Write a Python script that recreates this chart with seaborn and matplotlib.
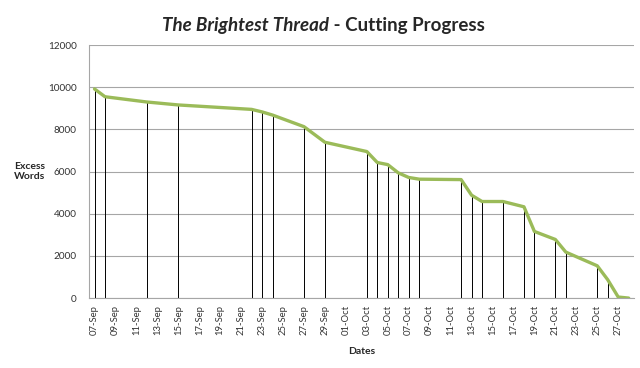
import pandas as pd
import matplotlib
matplotlib.use("Agg")
import matplotlib.pyplot as plt
import matplotlib.dates as mdates
import seaborn as sns

# Cutting progress
dates = ["2010-09-07", "2010-09-08", "2010-09-12", "2010-09-15", "2010-09-22",
         "2010-09-23", "2010-09-24", "2010-09-27", "2010-09-29", "2010-10-03",
         "2010-10-04", "2010-10-05", "2010-10-06", "2010-10-07", "2010-10-08",
         "2010-10-12", "2010-10-13", "2010-10-14", "2010-10-16", "2010-10-18",
         "2010-10-19", "2010-10-21", "2010-10-22", "2010-10-25", "2010-10-26",
         "2010-10-27", "2010-10-28"]
words = [9920, 9550, 9300, 9160, 8950,
         8830, 8680, 8130, 7390, 6950,
         6430, 6330, 5940, 5720, 5640,
         5620, 4880, 4580, 4580, 4330,
         3160, 2780, 2180, 1530, 870,
         50, 0]
tick_dates = pd.date_range("2010-09-07", "2010-10-27", freq="2D")
y_ticks = [0, 2000, 4000, 6000, 8000, 10000, 12000]

df = pd.DataFrame({"Dates": pd.to_datetime(dates), "Words": words})

sns.set_style("white")
plt.rcParams["font.family"] = ["Lato", "DejaVu Sans"]

fig = plt.figure(figsize=(6.4, 3.68), dpi=100)
ax = fig.add_axes([0.1395, 0.19, 0.851, 0.6875])

# drop lines
ax.vlines(df["Dates"], 0, df["Words"], color="black", lw=0.7, zorder=2)
sns.lineplot(data=df, x="Dates", y="Words", color="#9bbb59", lw=2.4, ax=ax, zorder=3)

ax.set_xlim(pd.Timestamp("2010-09-06 12:00"), pd.Timestamp("2010-10-28 12:00"))
ax.set_ylim(0, 12000)
ax.set_yticks(y_ticks)
ax.set_xticks(tick_dates)
ax.xaxis.set_major_formatter(mdates.DateFormatter("%d-%b"))
ax.tick_params(axis="x", rotation=90, labelsize=6.8, length=0, pad=5, colors="#333333")
ax.tick_params(axis="y", labelsize=7.2, length=0, pad=9, colors="#333333")

ax.yaxis.grid(True, color="#a6a6a6", lw=0.8)
ax.set_axisbelow(True)
for side in ["top", "right"]:
    ax.spines[side].set_visible(False)
ax.spines["left"].set_color("#a6a6a6")
ax.spines["bottom"].set_color("#a6a6a6")

ax.set_xlabel("Dates", fontsize=7.5, fontweight="bold")
ax.xaxis.set_label_coords(0.5, -0.195)
ax.set_ylabel("Excess\nWords", fontsize=7.5, fontweight="bold", rotation=0, va="center", ha="center")
ax.yaxis.set_label_coords(-0.11, 0.5)

# title with italic part
fig.canvas.draw()
r = fig.canvas.get_renderer()
t1 = fig.text(0, 0.93, "The Brightest Thread", fontsize=13.5, fontweight="bold",
              fontstyle="italic", va="center", ha="left")
t2 = fig.text(0, 0.93, " - Cutting Progress", fontsize=13.5, fontweight="bold",
              va="center", ha="left")
w1 = t1.get_window_extent(r).width / fig.bbox.width
w2 = t2.get_window_extent(r).width / fig.bbox.width
x0 = 0.506 - (w1 + w2) / 2
t1.set_x(x0)
t2.set_x(x0 + w1)

fig.savefig("out.png", dpi=100)
